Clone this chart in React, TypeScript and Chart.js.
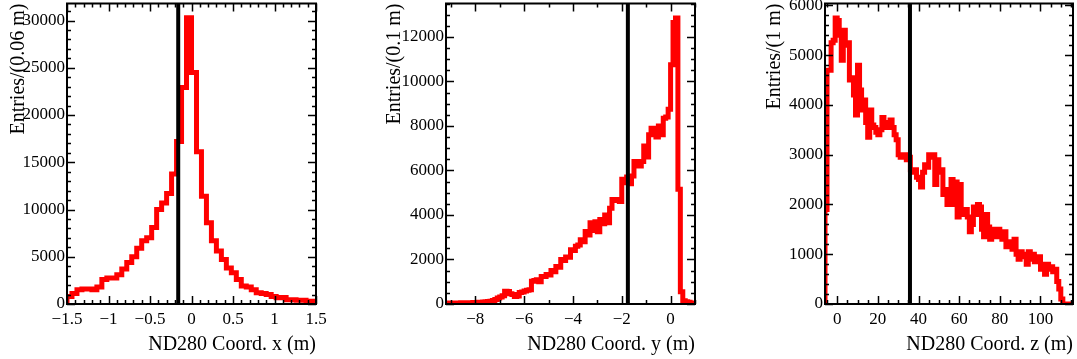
import React, { useEffect, useRef } from 'react';
import { Chart, registerables } from 'chart.js';

Chart.register(...registerables);

const W = 1077;
const H = 359;
const FONT = "'Liberation Serif', 'DejaVu Serif', serif";

// ---- data: bin contents ----
const xBins = [
  800, 1100, 1500, 1600, 1600, 1500, 1800, 2600, 2750, 2750,
  3100, 3700, 4400, 5000, 5900, 6700, 7000, 8100, 10000, 10700,
  11700, 13750, 17200, 22900, 30300, 24500, 16100, 11400, 8600, 6700,
  5600, 4700, 3800, 3300, 2600, 1900, 1800, 1500, 1200, 1100,
  1000, 800, 650, 700, 460, 460, 400, 400, 300, 300,
];
const xRange = [-1.5, 1.5];

const yBins = [
  40, 30, 50, 40, 50, 40, 60, 50, 40, 60,
  50, 70, 60, 80, 70, 90, 100, 110, 120, 160,
  200, 270, 320, 370, 570, 560, 460, 430, 340, 360,
  520, 540, 580, 620, 640, 1020, 1060, 1090, 1000, 1240,
  1230, 1320, 1300, 1510, 1450, 1690, 1650, 2000, 1950, 2110,
  2100, 2440, 2400, 2590, 2650, 2890, 2800, 3260, 3100, 3650,
  3300, 3700, 3250, 3800, 3600, 4000, 3650, 4300, 4700, 4650,
  4700, 4600, 5600, 5450, 5700, 5400, 5750, 6400, 6300, 6200,
  6400, 7100, 6600, 7600, 7900, 7800, 7500, 8000, 7600, 8350,
  8400, 8750, 10750, 12650, 12850, 5150, 550, 150, 100, 80,
  50, 40,
];
const yRange = [-9.2, 1.0];

const zBins = [
  1900, 4700, 4700, 5250, 5300, 5750,
  5700, 5400, 4900, 5500, 5200, 5250,
  4500, 4550, 4200, 3800, 4800, 4300,
  3900, 4100, 3650, 3350, 3900, 3600,
  3550, 3450, 3400, 3500, 3750, 3600,
  3550, 3650, 3700, 3550, 3400, 3300,
  3000, 2950, 2950, 3000, 2900, 2950,
  2700, 2650, 2700, 2550, 2500, 2350,
  2650, 2800, 2750, 3000, 2950, 3000,
  2400, 2900, 2650, 2700, 2200, 2300,
  2000, 2000, 2500, 2000, 2450, 1750,
  2400, 1850, 1800, 1900, 1750, 1450,
  1600, 1950, 1800, 2000, 1950, 1500,
  1350, 1800, 1550, 1300, 1450, 1500,
  1350, 1500, 1400, 1300, 1450, 1150,
  1250, 1150, 1100, 1300, 1000, 900,
  1050, 950, 1000, 800, 1050, 900,
  1000, 850, 900, 950, 700, 800,
  600, 800, 700, 750, 650, 700,
  450, 300, 100, 0, 0, 0,
  0, 0,
];
const zRange = [-6, 116];

const cutValues = [-0.16, -1.75, 35.8];
const xTitles = ['ND280 Coord. x (m)', 'ND280 Coord. y (m)', 'ND280 Coord. z (m)'];
const yTitles = ['Entries/(0.06 m)', 'Entries/(0.1 m)', 'Entries/(1 m)'];
const yMaxes = [31800, 13500, 6040];

// tick labels (major) for each panel
const xTicks1 = [-1.5, -1, -0.5, 0, 0.5, 1, 1.5];
const xTicks2 = [-8, -6, -4, -2, 0];
const xTicks3 = [0, 20, 40, 60, 80, 100];
const yTicks1 = [0, 5000, 10000, 15000, 20000, 25000, 30000];
const yTicks2 = [0, 2000, 4000, 6000, 8000, 10000, 12000];
const yTicks3 = [0, 1000, 2000, 3000, 4000, 5000, 6000];
const xTickSets = [xTicks1, xTicks2, xTicks3];
const yTickSets = [yTicks1, yTicks2, yTicks3];
const xMajorSteps = [0.5, 2, 20];
const xMinorSteps = [0.1, 1, 5];
const yMajorSteps = [5000, 2000, 1000];
const yMinorSteps = [1000, 500, 200];

// ---- layout (pixels) ----
const areaLeft = [67, 446, 825];
const areaRight = [316, 695, 1073];
const padLeft = [0, 376, 756];
const areaTop = 3.5;
const areaBottom = 304;

function histPoints(bins: number[], lo: number, hi: number) {
  const w = (hi - lo) / bins.length;
  const pts: { x: number; y: number }[] = [{ x: lo, y: 0 }];
  bins.forEach((v, i) => pts.push({ x: lo + i * w, y: v }));
  pts.push({ x: hi, y: bins[bins.length - 1] });
  pts.push({ x: hi, y: 0 });
  return pts;
}

const rootAxes = {
  id: 'rootAxes',
  afterDraw(chart: any, _args: any, opts: any) {
    const { ctx, chartArea: a } = chart;
    const xs = chart.scales.x;
    const ys = chart.scales.y;
    ctx.save();
    ctx.strokeStyle = '#000';
    ctx.lineWidth = 1.5;
    ctx.beginPath();
    const isMajor = (v: number, major: number) => Math.abs(v / major - Math.round(v / major)) < 1e-6;
    {
      const n0 = Math.ceil(xs.min / opts.xMinor - 1e-9);
      const n1 = Math.floor(xs.max / opts.xMinor + 1e-9);
      for (let n = n0; n <= n1; n++) {
        const v = n * opts.xMinor;
        const len = isMajor(v, opts.xMajor) ? 8 : 4;
        const px = Math.round(xs.getPixelForValue(v)) + 0.5;
        ctx.moveTo(px, a.bottom);
        ctx.lineTo(px, a.bottom - len);
        ctx.moveTo(px, a.top);
        ctx.lineTo(px, a.top + len);
      }
    }
    {
      const n0 = Math.ceil(ys.min / opts.yMinor - 1e-9);
      const n1 = Math.floor(ys.max / opts.yMinor + 1e-9);
      for (let n = n0; n <= n1; n++) {
        const v = n * opts.yMinor;
        const len = isMajor(v, opts.yMajor) ? 8 : 4;
        const py = Math.round(ys.getPixelForValue(v)) + 0.5;
        ctx.moveTo(a.left, py);
        ctx.lineTo(a.left + len, py);
        ctx.moveTo(a.right, py);
        ctx.lineTo(a.right - len, py);
      }
    }
    ctx.stroke();
    ctx.lineWidth = 2;
    ctx.strokeRect(a.left, a.top, a.right - a.left, a.bottom - a.top);
    ctx.restore();
  },
};

const fmtX = (v: number) => String(Number(v.toFixed(3))).replace('-', '\u2212');
const fmtY = (v: number) => String(Math.round(v));

function HistPanel({ idx, bins, range }: { idx: number; bins: number[]; range: number[] }) {
  const ref = useRef<HTMLCanvasElement | null>(null);
  useEffect(() => {
    if (!ref.current) return;
    const yMax = yMaxes[idx];
    const cut = cutValues[idx];
    const chart = new Chart(ref.current, {
      type: 'line',
      data: {
        datasets: [
          {
            data: [
              { x: cut, y: 0 },
              { x: cut, y: yMax },
            ],
            borderColor: '#000000',
            borderWidth: 4,
            pointRadius: 0,
            order: 0,
          },
          {
            data: histPoints(bins, range[0], range[1]),
            borderColor: '#ff0000',
            borderWidth: 5,
            pointRadius: 0,
            stepped: 'before',
            borderJoinStyle: 'miter',
            borderCapStyle: 'butt',
            order: 1,
          },
        ],
      } as any,
      options: {
        animation: false,
        responsive: false,
        devicePixelRatio: 1,
        events: [],
        layout: {
          padding: { left: padLeft[idx], right: W - areaRight[idx], top: areaTop, bottom: 0 },
        },
        plugins: {
          legend: { display: false },
          tooltip: { enabled: false },
          rootAxes: {
            xMajor: xMajorSteps[idx],
            xMinor: xMinorSteps[idx],
            yMajor: yMajorSteps[idx],
            yMinor: yMinorSteps[idx],
          },
        } as any,
        scales: {
          x: {
            type: 'linear',
            min: range[0],
            max: range[1],
            grid: { display: false, drawTicks: false },
            border: { display: false },
            afterBuildTicks: (s: any) => {
              s.ticks = xTickSets[idx].map((v) => ({ value: v }));
            },
            ticks: {
              autoSkip: false,
              maxRotation: 0,
              minRotation: 0,
              padding: 5,
              color: '#000',
              font: { family: FONT, size: 17 },
              callback: (v: any) => fmtX(Number(v)),
            },
            title: {
              display: true,
              text: xTitles[idx],
              align: 'end',
              color: '#000',
              font: { family: FONT, size: 20 },
              padding: { top: 0, bottom: 2 },
            },
            afterFit: (s: any) => {
              s.height = H - areaBottom;
              s.paddingLeft = 0;
              s.paddingRight = 0;
            },
          },
          y: {
            type: 'linear',
            min: 0,
            max: yMax,
            grid: { display: false, drawTicks: false },
            border: { display: false },
            afterBuildTicks: (s: any) => {
              s.ticks = yTickSets[idx].map((v) => ({ value: v }));
            },
            ticks: {
              autoSkip: false,
              padding: 2,
              color: '#000',
              font: { family: FONT, size: 17 },
              callback: (v: any) => fmtY(Number(v)),
            },
            title: {
              display: true,
              text: yTitles[idx],
              align: 'end',
              color: '#000',
              font: { family: FONT, size: 20 },
              padding: { top: 7, bottom: 0 },
            },
            afterFit: (s: any) => {
              s.width = areaLeft[idx] - padLeft[idx];
              s.paddingTop = 0;
              s.paddingBottom = 0;
            },
          },
        },
      } as any,
      plugins: [rootAxes],
    });
    return () => chart.destroy();
  }, [idx, bins, range]);
  return (
    <canvas
      ref={ref}
      width={W}
      height={H}
      style={{ position: 'absolute', left: 0, top: 0, width: W, height: H }}
    />
  );
}

export default function App() {
  return (
    <div style={{ position: 'absolute', left: 0, top: 0, width: W, height: H, background: '#fff', overflow: 'hidden' }}>
      <HistPanel idx={0} bins={xBins} range={xRange} />
      <HistPanel idx={1} bins={yBins} range={yRange} />
      <HistPanel idx={2} bins={zBins} range={zRange} />
    </div>
  );
}
